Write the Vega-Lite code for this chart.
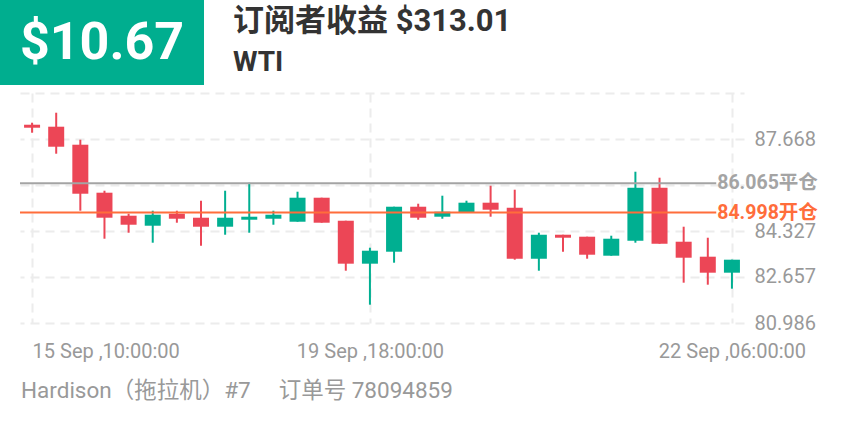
{
  "$schema": "https://vega.github.io/schema/vega-lite/v6.json",
  "padding": 0,
  "background": "white",
  "spacing": 8,
  "config": {
    "view": {"stroke": null},
    "font": "Roboto, 'Noto Sans CJK SC', sans-serif"
  },
  "datasets": {
    "candles": [
      {"i": 0, "open": 88.187, "close": 88.078, "high": 88.260, "low": 87.897},
      {"i": 1, "open": 88.115, "close": 87.388, "high": 88.623, "low": 87.134},
      {"i": 2, "open": 87.461, "close": 85.681, "high": 87.643, "low": 85.064},
      {"i": 3, "open": 85.718, "close": 84.810, "high": 85.790, "low": 84.047},
      {"i": 4, "open": 84.882, "close": 84.555, "high": 84.955, "low": 84.265},
      {"i": 5, "open": 84.519, "close": 84.919, "high": 85.064, "low": 83.902},
      {"i": 6, "open": 84.955, "close": 84.773, "high": 85.064, "low": 84.628},
      {"i": 7, "open": 84.810, "close": 84.483, "high": 85.427, "low": 83.793},
      {"i": 8, "open": 84.483, "close": 84.810, "high": 85.790, "low": 84.192},
      {"i": 9, "open": 84.737, "close": 84.846, "high": 86.081, "low": 84.265},
      {"i": 10, "open": 84.773, "close": 84.919, "high": 85.064, "low": 84.555},
      {"i": 11, "open": 84.664, "close": 85.536, "high": 85.754, "low": 84.664},
      {"i": 12, "open": 85.536, "close": 84.628, "high": 85.536, "low": 84.628},
      {"i": 13, "open": 84.700, "close": 83.140, "high": 84.700, "low": 82.885},
      {"i": 14, "open": 83.140, "close": 83.611, "high": 83.720, "low": 81.651},
      {"i": 15, "open": 83.575, "close": 85.209, "high": 85.209, "low": 83.176},
      {"i": 16, "open": 85.209, "close": 84.810, "high": 85.318, "low": 84.737},
      {"i": 17, "open": 84.846, "close": 85.028, "high": 85.609, "low": 84.773},
      {"i": 18, "open": 84.991, "close": 85.355, "high": 85.427, "low": 84.991},
      {"i": 19, "open": 85.355, "close": 85.100, "high": 85.972, "low": 84.846},
      {"i": 20, "open": 85.173, "close": 83.321, "high": 85.827, "low": 83.285},
      {"i": 21, "open": 83.321, "close": 84.192, "high": 84.265, "low": 82.885},
      {"i": 22, "open": 84.192, "close": 84.083, "high": 84.192, "low": 83.575},
      {"i": 23, "open": 84.120, "close": 83.466, "high": 84.120, "low": 83.321},
      {"i": 24, "open": 83.430, "close": 84.047, "high": 84.156, "low": 83.430},
      {"i": 25, "open": 83.975, "close": 85.899, "high": 86.480, "low": 83.902},
      {"i": 26, "open": 85.899, "close": 83.866, "high": 86.263, "low": 83.866},
      {"i": 27, "open": 83.938, "close": 83.357, "high": 84.483, "low": 82.450},
      {"i": 28, "open": 83.394, "close": 82.813, "high": 84.083, "low": 82.377},
      {"i": 29, "open": 82.813, "close": 83.285, "high": 83.285, "low": 82.232}
    ],
    "levels": [
      {"price": 86.065, "label": "86.065平仓", "kind": "平仓"},
      {"price": 84.998, "label": "84.998开仓", "kind": "开仓"}
    ]
  },
  "vconcat": [
    {
      "spacing": 29,
      "hconcat": [
        {
          "width": 204,
          "height": 85,
          "view": {"fill": "#00AE8F", "stroke": null},
          "data": {"values": [{"amount": "$10.67"}]},
          "mark": {"type": "text", "color": "#ffffff", "fontSize": 52, "fontWeight": "bold", "align": "center", "baseline": "middle", "font": "Roboto"},
          "encoding": {"text": {"field": "amount"}}
        },
        {
          "width": 529,
          "height": 85,
          "data": {"values": [{"line": "订阅者收益 $313.01", "row": "a"}, {"line": "WTI", "row": "b"}]},
          "encoding": {
            "x": {"value": 0},
            "y": {"field": "row", "type": "nominal", "axis": null, "scale": {"type": "point", "domain": ["a", "b"], "padding": 0.55}},
            "text": {"field": "line"}
          },
          "layer": [
            {
              "transform": [{"filter": "datum.row === 'a'"}],
              "mark": {"type": "text", "align": "left", "baseline": "middle", "fontSize": 31, "fontWeight": "bold", "color": "#333333"}
            },
            {
              "transform": [{"filter": "datum.row === 'b'"}],
              "mark": {"type": "text", "align": "left", "baseline": "middle", "fontSize": 28, "fontWeight": "bold", "color": "#333333", "font": "Roboto"}
            }
          ]
        }
      ]
    },
    {
      "spacing": 18,
      "hconcat": [
        {
          "width": 1,
          "height": 1,
          "data": {"values": [{}]},
          "mark": {"type": "rect", "opacity": 0, "strokeWidth": 0}
        },
        {
          "width": 724,
          "height": 230,
          "title": {
            "text": "Hardison（拖拉机）#7\u00a0\u00a0\u00a0\u00a0\u00a0订单号 78094859",
            "orient": "bottom",
            "anchor": "start",
            "frame": "group",
            "fontSize": 22.5,
            "fontWeight": "normal",
            "color": "#999999",
            "offset": 19,
            "dx": 1
          },
          "resolve": {"axis": {"y": "independent"}},
          "layer": [
            {
              "data": {"name": "candles"},
              "mark": {"type": "rule", "strokeWidth": 2},
              "encoding": {
                "x": {
                  "field": "i", "type": "quantitative",
                  "scale": {"domain": [-0.5, 29.5], "nice": false, "zero": false, "padding": 0},
                  "axis": {
                    "values": [0, 14, 29],
                    "labelExpr": "datum.value === 0 ? '15 Sep ,10:00:00' : datum.value === 14 ? '19 Sep ,18:00:00' : '22 Sep ,06:00:00'",
                    "title": null,
                    "grid": true,
                    "gridDash": [9, 6],
                    "gridColor": "#ececec",
                    "gridWidth": 2,
                    "domain": false,
                    "ticks": false,
                    "tickSize": 0,
                    "labelPadding": 18,
                    "labelFontSize": 20,
                    "labelColor": "#999999",
                    "labelAlign": {"condition": {"test": "datum.value === 0", "value": "left"}, "value": "center"},
                    "labelOverlap": false,
                    "labelBound": false,
                    "labelFlush": false
                  }
                },
                "y": {
                  "field": "low", "type": "quantitative",
                  "scale": {"domain": [80.986, 89.339], "nice": false, "zero": false},
                  "axis": {
                    "orient": "right",
                    "values": [80.986, 82.657, 84.327, 87.668],
                    "format": ".3f",
                    "title": null,
                    "grid": true,
                    "gridDash": [9, 6],
                    "gridColor": "#ececec",
                    "gridWidth": 2,
                    "domain": false,
                    "ticks": false,
                    "tickSize": 0,
                    "labelPadding": 10,
                    "labelFontSize": 20,
                    "labelColor": "#999999",
                    "labelOverlap": false,
                    "labelBound": false,
                    "labelFlush": false
                  }
                },
                "y2": {"field": "high"},
                "color": {"condition": {"test": "datum.close > datum.open", "value": "#00AF91"}, "value": "#EC4656"}
              }
            },
            {
              "data": {"name": "candles"},
              "mark": {"type": "bar", "size": 16, "orient": "vertical"},
              "encoding": {
                "x": {"field": "i", "type": "quantitative"},
                "y": {
                  "field": "open", "type": "quantitative",
                  "axis": {
                    "orient": "left",
                    "values": [85.998, 89.339],
                    "title": null,
                    "grid": true,
                    "gridDash": [9, 6],
                    "gridColor": "#ececec",
                    "gridWidth": 2,
                    "domain": false,
                    "ticks": false,
                    "labels": false,
                    "tickSize": 0,
                    "minExtent": 0,
                    "maxExtent": 0
                  }
                },
                "y2": {"field": "close"},
                "color": {"condition": {"test": "datum.close > datum.open", "value": "#00AF91"}, "value": "#EC4656"}
              }
            },
            {
              "data": {"name": "levels"},
              "mark": {"type": "rule", "strokeWidth": 2},
              "encoding": {
                "x": {"datum": -0.5},
                "x2": {"datum": 28.35},
                "y": {"field": "price", "type": "quantitative", "axis": null},
                "color": {"field": "kind", "type": "nominal", "scale": {"domain": ["平仓", "开仓"], "range": ["#A4A4A4", "#FF6D3B"]}, "legend": null}
              }
            },
            {
              "data": {"name": "levels"},
              "mark": {"type": "text", "align": "left", "baseline": "middle", "dx": 1, "fontSize": 19.5, "fontWeight": "bold"},
              "encoding": {
                "x": {"datum": 28.35},
                "y": {"field": "price", "type": "quantitative", "axis": null},
                "text": {"field": "label"},
                "color": {"field": "kind", "type": "nominal", "legend": null}
              }
            }
          ]
        }
      ]
    }
  ]
}
